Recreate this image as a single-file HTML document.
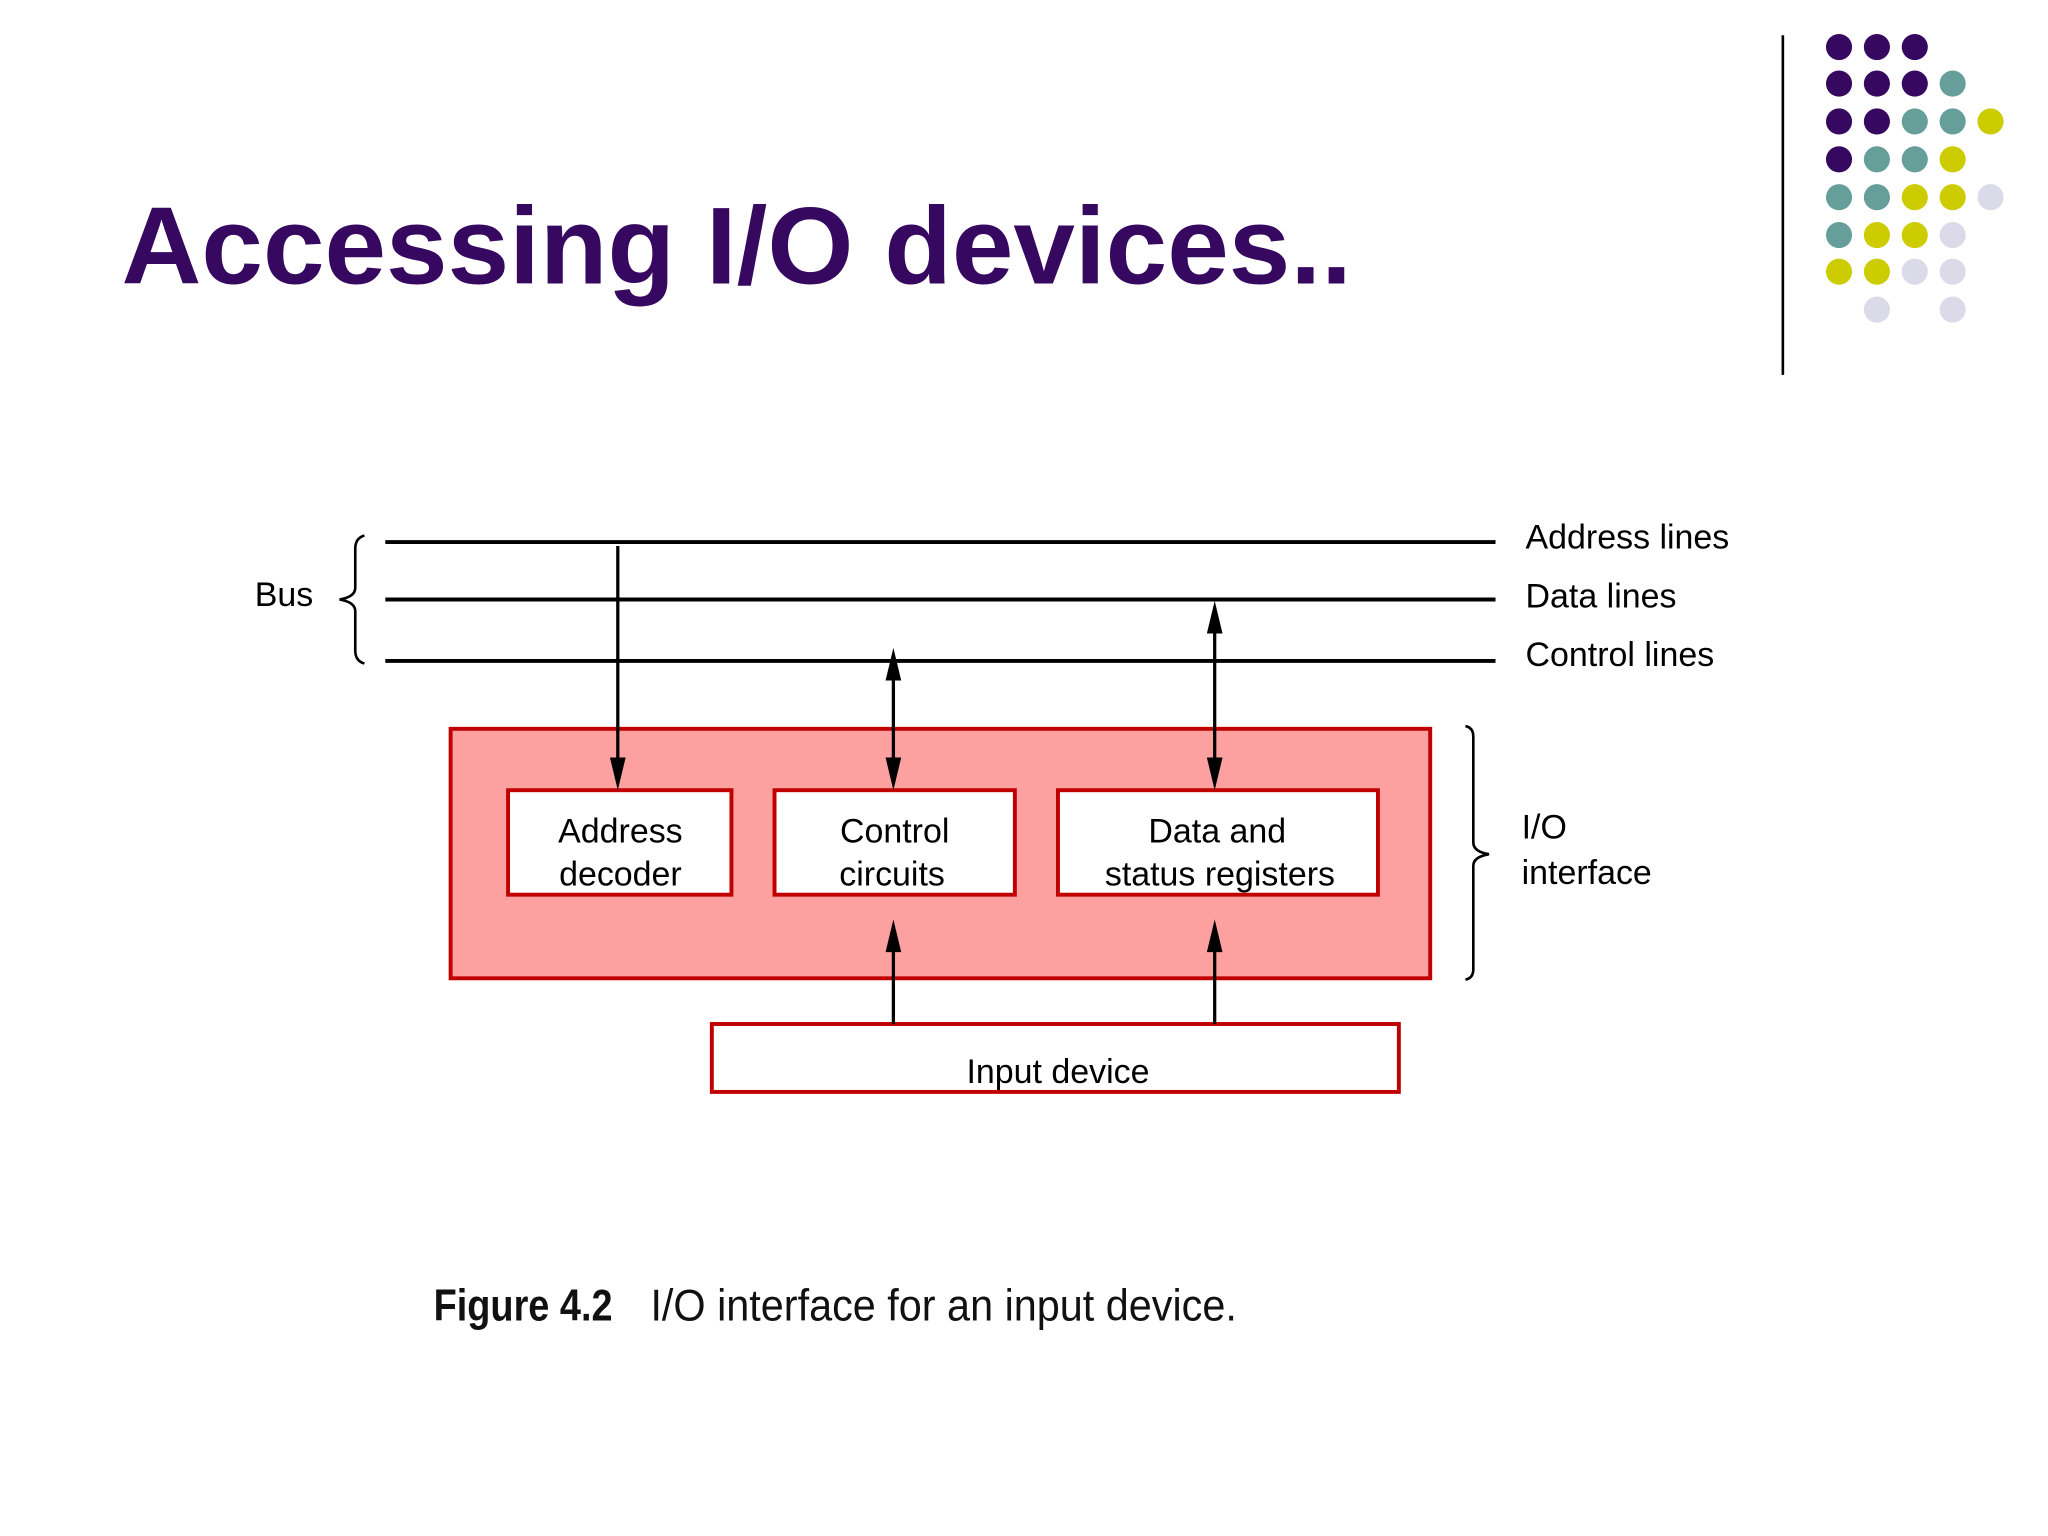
<!DOCTYPE html>
<html><head><meta charset="utf-8"><style>html,body{margin:0;padding:0;background:#fff}svg{display:block}</style></head>
<body>
<svg width="2048" height="1536" viewBox="0 0 1568 1176" xmlns="http://www.w3.org/2000/svg">
<defs>
<marker id="ah" viewBox="0 0 10 20" refX="10" refY="10" markerWidth="4" markerHeight="8" markerUnits="userSpaceOnUse" orient="auto-start-reverse">
</marker>
</defs>
<rect width="1568" height="1176" fill="#fff"/>
<line x1="1365" y1="27" x2="1365" y2="287" stroke="#000" stroke-width="2"/>
<g>
<circle cx="1408" cy="36" r="10" fill="#36085f"/><circle cx="1437" cy="36" r="10" fill="#36085f"/><circle cx="1466" cy="36" r="10" fill="#36085f"/>
<circle cx="1408" cy="64" r="10" fill="#36085f"/><circle cx="1437" cy="64" r="10" fill="#36085f"/><circle cx="1466" cy="64" r="10" fill="#36085f"/><circle cx="1495" cy="64" r="10" fill="#669e9a"/>
<circle cx="1408" cy="93" r="10" fill="#36085f"/><circle cx="1437" cy="93" r="10" fill="#36085f"/><circle cx="1466" cy="93" r="10" fill="#669e9a"/><circle cx="1495" cy="93" r="10" fill="#669e9a"/><circle cx="1524" cy="93" r="10" fill="#cccc00"/>
<circle cx="1408" cy="122" r="10" fill="#36085f"/><circle cx="1437" cy="122" r="10" fill="#669e9a"/><circle cx="1466" cy="122" r="10" fill="#669e9a"/><circle cx="1495" cy="122" r="10" fill="#cccc00"/>
<circle cx="1408" cy="151" r="10" fill="#669e9a"/><circle cx="1437" cy="151" r="10" fill="#669e9a"/><circle cx="1466" cy="151" r="10" fill="#cccc00"/><circle cx="1495" cy="151" r="10" fill="#cccc00"/><circle cx="1524" cy="151" r="10" fill="#dadae8"/>
<circle cx="1408" cy="180" r="10" fill="#669e9a"/><circle cx="1437" cy="180" r="10" fill="#cccc00"/><circle cx="1466" cy="180" r="10" fill="#cccc00"/><circle cx="1495" cy="180" r="10" fill="#dadae8"/>
<circle cx="1408" cy="208" r="10" fill="#cccc00"/><circle cx="1437" cy="208" r="10" fill="#cccc00"/><circle cx="1466" cy="208" r="10" fill="#dadae8"/><circle cx="1495" cy="208" r="10" fill="#dadae8"/>
<circle cx="1437" cy="237" r="10" fill="#dadae8"/><circle cx="1495" cy="237" r="10" fill="#dadae8"/>
</g>
<text x="93" y="217" font-family="Liberation Sans, sans-serif" font-weight="bold" font-size="84" fill="#36085f" textLength="942" lengthAdjust="spacingAndGlyphs">Accessing I/O devices..</text>

<g stroke="#000" stroke-width="3">
<line x1="295" y1="415" x2="1145" y2="415"/>
<line x1="295" y1="459" x2="1145" y2="459"/>
<line x1="295" y1="506" x2="1145" y2="506"/>
</g>
<path d="M279,410 Q272,412 272,420 L272,450 Q272,457 260,459 Q272,461 272,468 L272,498 Q272,506 279,508" fill="none" stroke="#000" stroke-width="2"/>
<g font-family="Liberation Sans, sans-serif" font-size="26" fill="#000">
<text x="195" y="464">Bus</text>
<text x="1168" y="420">Address lines</text>
<text x="1168" y="465">Data lines</text>
<text x="1168" y="510">Control lines</text>
<text x="1165" y="642">I/O</text>
<text x="1165" y="677">interface</text>
</g>
<rect x="345" y="558" width="750" height="191" fill="#fca0a0" stroke="#c00000" stroke-width="3"/>
<g fill="#fff" stroke="#c00000" stroke-width="3">
<rect x="389" y="605" width="171" height="80"/>
<rect x="593" y="605" width="184" height="80"/>
<rect x="810" y="605" width="245" height="80"/>
<rect x="545" y="784" width="526" height="52"/>
</g>
<g font-family="Liberation Sans, sans-serif" font-size="26" fill="#000" text-anchor="middle">
<text x="475" y="645">Address</text><text x="475" y="678">decoder</text>
<text x="685" y="645">Control</text><text x="683" y="678">circuits</text>
<text x="932" y="645">Data and</text><text x="934" y="678">status registers</text>
<text x="810" y="829">Input device</text>
</g>
<g stroke="#000" stroke-width="2.5">
<line x1="473" y1="418" x2="473" y2="585"/>
<line x1="684" y1="518" x2="684" y2="585"/>
<line x1="930" y1="480" x2="930" y2="585"/>
<line x1="684" y1="725" x2="684" y2="784"/>
<line x1="930" y1="725" x2="930" y2="784"/>
</g>
<g fill="#000">
<polygon points="467,580 479,580 473,605"/>
<polygon points="678,580 690,580 684,605"/>
<polygon points="678,521 690,521 684,496"/>
<polygon points="924,580 936,580 930,605"/>
<polygon points="924,485 936,485 930,460"/>
<polygon points="678,729 690,729 684,704"/>
<polygon points="924,729 936,729 930,704"/>
</g>
<path d="M1122,556 Q1128,557 1128,564 L1128,645 Q1128,652 1140,654 Q1128,656 1128,663 L1128,742 Q1128,749 1122,750" fill="none" stroke="#000" stroke-width="2"/>
<text x="332" y="1011" font-family="Liberation Sans, sans-serif" font-size="34" font-weight="bold" fill="#111" textLength="137" lengthAdjust="spacingAndGlyphs">Figure 4.2</text>
<text x="498" y="1011" font-family="Liberation Sans, sans-serif" font-size="34" fill="#111" textLength="449" lengthAdjust="spacingAndGlyphs">I/O interface for an input device.</text>
</svg>
</body></html>
